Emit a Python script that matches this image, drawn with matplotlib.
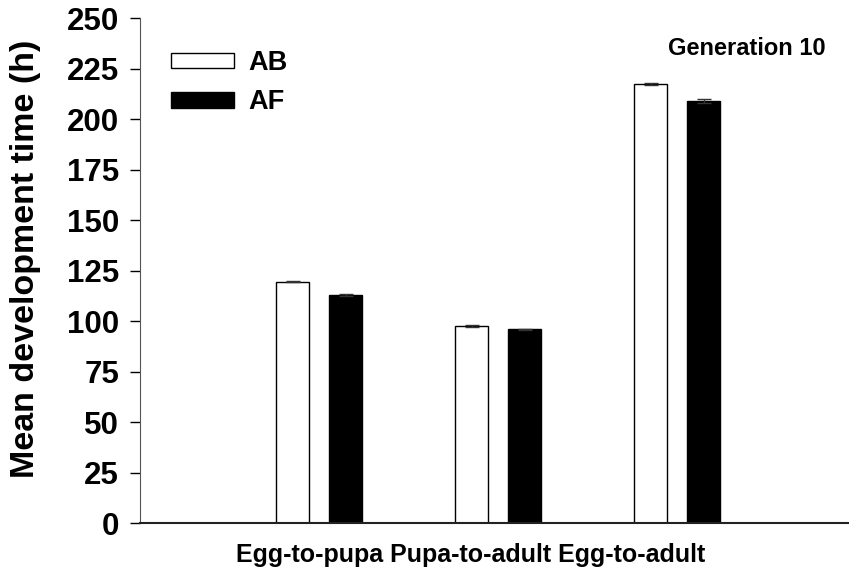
import matplotlib.pyplot as plt
import numpy as np

plt.rcParams['font.family'] = ['Liberation Sans', 'DejaVu Sans']
plt.rcParams['font.weight'] = 'bold'

stages = ['Egg-to-pupa', 'Pupa-to-adult', 'Egg-to-adult']
ab_means = [119.5, 97.5, 217.3]
af_means = [112.9, 95.8, 208.9]
ab_err = [0.4, 0.3, 0.4]
af_err = [0.6, 0.3, 0.9]

ind = np.arange(1, len(stages) + 1)
width = 0.184
off = 0.148

fig = plt.figure(figsize=(8.49, 5.79), dpi=100)
ax = fig.add_axes([0.1649, 0.0967, 0.834, 0.8722])

ekw = dict(ecolor='#333333', capsize=5, elinewidth=1, capthick=1)
ax.bar(ind - off, ab_means, width, yerr=ab_err, color='white', edgecolor='black',
       linewidth=1, label='AB', error_kw=ekw)
ax.bar(ind + off, af_means, width, yerr=af_err, color='black', edgecolor='black',
       linewidth=1, label='AF', error_kw=ekw)

ax.set_xlim(0, 3.955)
ax.set_ylim(0, 250)
ax.set_yticks(np.arange(0, 251, 25))
ax.tick_params(axis='y', direction='out', length=7, width=1, labelsize=22.5, pad=8)
ax.set_xticks([])
for s in ['top', 'right']:
    ax.spines[s].set_visible(False)
ax.spines['left'].set_color('#555555')
ax.spines['bottom'].set_color('#222222')
ax.spines['bottom'].set_linewidth(1.5)

ax.set_ylabel('Mean development time (h)', fontsize=24.5, fontweight='bold')
ax.yaxis.set_label_coords(-0.14, 0.523)
fig.text(471 / 849, 1 - 555 / 579, ' '.join(stages), ha='center', va='center',
         fontsize=18, fontweight='bold')

ax.legend(loc='upper left', bbox_to_anchor=(0.01, 0.985), frameon=False, fontsize=19.5,
          handlelength=2.3, handleheight=0.5, handletextpad=0.55, labelspacing=0.5)
ax.text(0.968, 0.94, 'Generation 10', transform=ax.transAxes, ha='right', va='center',
        fontsize=17, fontweight='bold')

fig.savefig('out.png', dpi=100)
